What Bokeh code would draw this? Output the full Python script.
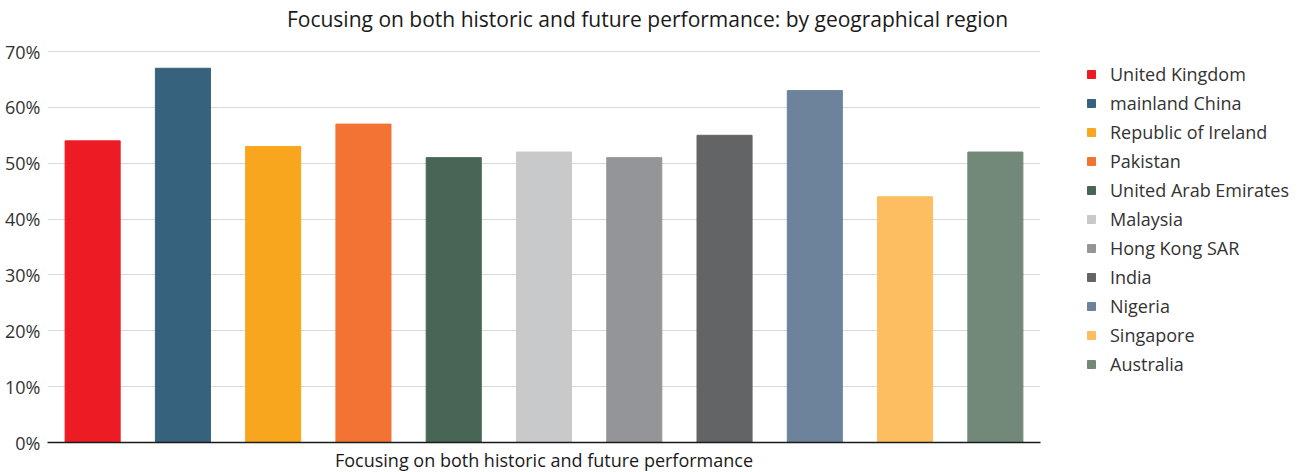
from bokeh.plotting import figure
from bokeh.models import (ColumnDataSource, Range1d, Legend, LegendItem,
                          PrintfTickFormatter, FactorRange, Label, FixedTicker)
from bokeh.embed import file_html
from bokeh.resources import INLINE

regions = ["United Kingdom", "mainland China", "Republic of Ireland", "Pakistan",
           "United Arab Emirates", "Malaysia", "Hong Kong SAR", "India",
           "Nigeria", "Singapore", "Australia"]
values = [54, 67, 53, 57, 51, 52, 51, 55, 63, 44, 52]
colors = ["#ED1C24", "#36627E", "#F7A61E", "#F37335", "#476656", "#C8C9CB",
          "#949599", "#636466", "#6D839C", "#FDBE62", "#728979"]
y_ticks = [0, 10, 20, 30, 40, 50, 60, 70]

title_text = "Focusing on both historic and future performance: by geographical region"
x_label = "Focusing on both historic and future performance"

FONT = "Open Sans"

# frame: 0% line at 434px below frame top, 70% line 391px above the 0% line
FRAME_H = 434
Y_TOP = 70 * FRAME_H / 391.0

src = ColumnDataSource(dict(region=regions, value=values, color=colors))

p = figure(x_range=FactorRange(*regions), y_range=Range1d(0, Y_TOP),
           frame_width=993, frame_height=FRAME_H,
           min_border_left=47, min_border_right=242, min_border_top=8,
           min_border_bottom=0,
           output_backend="svg", toolbar_location=None)

r = p.vbar(x="region", top="value", width=0.61, color="color", source=src)

title = Label(x=600, y=424, x_units="screen", y_units="screen", text=title_text,
              text_align="center", text_baseline="middle",
              text_font=FONT, text_font_size="21px", text_color="#1a1a1a")
p.add_layout(title)

p.outline_line_color = None
p.xgrid.grid_line_color = None
p.ygrid.grid_line_color = "#d9d9d9"
p.ygrid.grid_line_width = 1
p.ygrid.ticker = y_ticks

p.yaxis.ticker = y_ticks
p.yaxis.formatter = PrintfTickFormatter(format="%d%%")
p.yaxis.axis_line_color = None
p.yaxis.major_tick_line_color = None
p.yaxis.minor_tick_line_color = None
p.yaxis.major_tick_out = 0
p.yaxis.major_tick_in = 0
p.yaxis.minor_tick_out = 0
p.yaxis.minor_tick_in = 0
p.yaxis.major_label_text_font = FONT
p.yaxis.major_label_text_font_size = "18px"
p.yaxis.major_label_text_color = "#333333"
p.yaxis.major_label_standoff = 7

p.xaxis.ticker = FixedTicker(ticks=[])
p.xaxis.axis_label = x_label
p.xaxis.axis_label_text_font = FONT
p.xaxis.axis_label_text_font_size = "18px"
p.xaxis.axis_label_text_font_style = "normal"
p.xaxis.axis_label_text_color = "#1a1a1a"
p.xaxis.axis_label_standoff = 5
p.xaxis.major_tick_line_color = None
p.xaxis.minor_tick_line_color = None
p.xaxis.axis_line_color = "#1a1a1a"
p.xaxis.axis_line_width = 1.5

items = [LegendItem(label=regions[i], renderers=[r], index=i) for i in range(len(regions))]
legend = Legend(items=items, location=(46, 64))
legend.margin = 0
legend.padding = 0
legend.border_line_color = None
legend.background_fill_alpha = 0
legend.glyph_width = 10
legend.glyph_height = 10
legend.label_standoff = 14
legend.label_height = 29
legend.spacing = 0
legend.label_text_font = FONT
legend.label_text_font_size = "18px"
legend.label_text_color = "#333333"
p.add_layout(legend, "right")

open("out.html", "w").write(file_html(p, INLINE))
